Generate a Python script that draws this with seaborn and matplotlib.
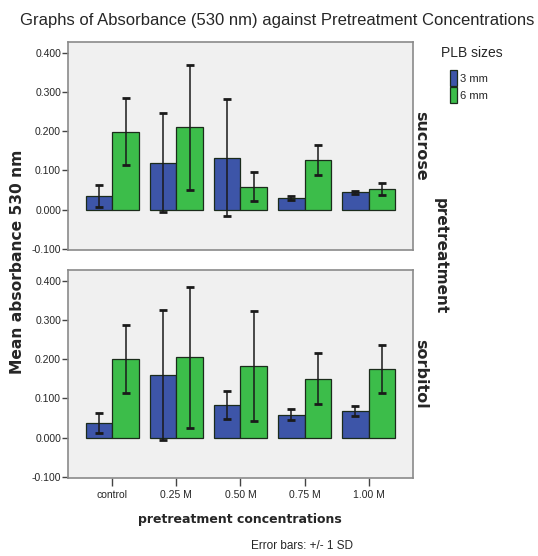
import numpy as np
import pandas as pd
import seaborn as sns
import matplotlib
matplotlib.use('Agg')
from matplotlib import pyplot as plt
from matplotlib.patches import Patch

sns.set_theme(style="white")
plt.rcParams['font.family'] = ['Liberation Sans', 'DejaVu Sans']

# data (mean absorbance and +/- 1 SD)
concentrations = ["control", "0.25 M", "0.50 M", "0.75 M", "1.00 M"]
sizes = ["3 mm", "6 mm"]
pretreatments = ["sucrose", "sorbitol"]

sucrose_3mm = [0.035, 0.120, 0.133, 0.030, 0.044]
sucrose_6mm = [0.199, 0.210, 0.059, 0.126, 0.053]
sucrose_3mm_sd = [0.027, 0.127, 0.149, 0.006, 0.004]
sucrose_6mm_sd = [0.086, 0.160, 0.038, 0.038, 0.016]

sorbitol_3mm = [0.037, 0.160, 0.083, 0.059, 0.068]
sorbitol_6mm = [0.201, 0.205, 0.183, 0.151, 0.175]
sorbitol_3mm_sd = [0.026, 0.166, 0.036, 0.015, 0.012]
sorbitol_6mm_sd = [0.086, 0.180, 0.141, 0.065, 0.061]

means = {"sucrose": [sucrose_3mm, sucrose_6mm], "sorbitol": [sorbitol_3mm, sorbitol_6mm]}
sds = {"sucrose": [sucrose_3mm_sd, sucrose_6mm_sd], "sorbitol": [sorbitol_3mm_sd, sorbitol_6mm_sd]}

rows = []
for p in pretreatments:
    for s_i, s in enumerate(sizes):
        for c_i, c in enumerate(concentrations):
            rows.append({"pretreatment": p, "size": s, "conc": c,
                         "mean": means[p][s_i][c_i], "sd": sds[p][s_i][c_i]})
df = pd.DataFrame(rows)

colors = {"3 mm": "#3d55a8", "6 mm": "#3cbd4a"}
W, H = 538, 556
fig = plt.figure(figsize=(W / 100, H / 100), dpi=100)

panel_top = {"sucrose": 42, "sorbitol": 270}
panel_h = 208
for p in pretreatments:
    ax = fig.add_axes([68 / W, 1 - (panel_top[p] + panel_h) / H, 345 / W, panel_h / H])
    sub = df[df.pretreatment == p]
    sns.barplot(data=sub, x="conc", y="mean", hue="size", order=concentrations, hue_order=sizes,
                palette=colors, saturation=1, errorbar=None, width=0.83, edgecolor="#1b2b1b",
                linewidth=0.9, legend=False, ax=ax)
    # SD error bars at the bar centres
    for s, cont in zip(sizes, ax.containers):
        part = sub[sub["size"] == s].set_index("conc").loc[concentrations]
        xs = [b.get_x() + b.get_width() / 2 for b in cont]
        ax.errorbar(xs, part["mean"], yerr=part["sd"], fmt="none", ecolor="#1a1a1a",
                    elinewidth=1.1, capsize=3, capthick=2)
    ax.set_facecolor("#f0f0f0")
    ax.set_xlim(-0.69, 4.69)
    ax.set_ylim(-0.103, 0.428)
    ax.set_yticks([-0.1, 0.0, 0.1, 0.2, 0.3, 0.4])
    ax.set_yticklabels(["-0.100", "0.000", "0.100", "0.200", "0.300", "0.400"])
    ax.tick_params(axis="y", left=True, length=4, width=1, color="#444444", labelsize=7.5, pad=1)
    ax.set_xlabel("")
    ax.set_ylabel("")
    for sp in ax.spines.values():
        sp.set_color("#8a8a8a")
        sp.set_linewidth(1.2)
    if p == "sucrose":
        ax.set_xticks([])
    else:
        ax.tick_params(axis="x", bottom=True, length=6, width=1, color="#444444", labelsize=7.5, pad=3)
    cy = 1 - (panel_top[p] + panel_h / 2) / H
    fig.text(421 / W, cy, p, rotation=-90, ha="center", va="center",
             fontsize=11.5, fontweight="bold", family="DejaVu Sans")

fig.text(440 / W, 1 - 256 / H, "pretreatment", rotation=-90, ha="center", va="center",
         fontsize=11, fontweight="bold", family="DejaVu Sans")
fig.text(18 / W, 1 - 262 / H, "Mean absorbance 530 nm", rotation=90, ha="center", va="center",
         fontsize=11.2, fontweight="bold", family="DejaVu Sans")
fig.text(240 / W, 1 - 520 / H, "pretreatment concentrations", ha="center", va="center",
         fontsize=9, fontweight="bold", family="DejaVu Sans")
fig.text(302 / W, 1 - 546 / H, "Error bars: +/- 1 SD", ha="center", va="center", fontsize=8.5)
fig.text(277 / W, 1 - 20 / H, "Graphs of Absorbance (530 nm) against Pretreatment Concentrations",
         ha="center", va="center", fontsize=12)

fig.text(472 / W, 1 - 53 / H, "PLB sizes", ha="center", va="center", fontsize=10)
handles = [Patch(facecolor=colors[s], edgecolor="#1b2b1b", linewidth=0.9, label=s) for s in sizes]
fig.legend(handles=handles, loc="upper left", bbox_to_anchor=(450 / W, 1 - 70 / H),
           frameon=False, fontsize=8, handlelength=0.6, handleheight=1.9,
           handletextpad=0.3, labelspacing=0.05, borderaxespad=0, borderpad=0)

fig.savefig("out.png", dpi=100)
